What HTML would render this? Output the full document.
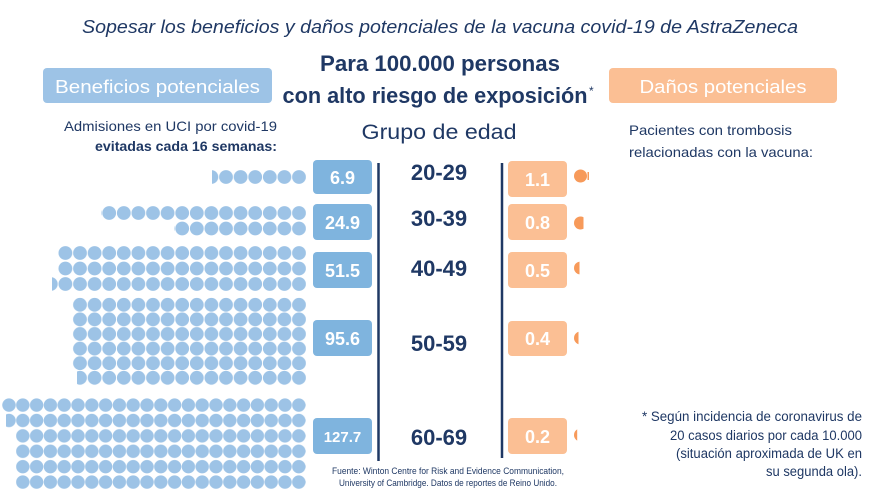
<!DOCTYPE html>
<html><head><meta charset="utf-8"><style>
html,body{margin:0;padding:0;background:#fff;}
svg{display:block;font-family:"Liberation Sans",sans-serif;}
</style></head><body>
<svg width="880" height="495" viewBox="0 0 880 495" xmlns="http://www.w3.org/2000/svg">
<defs>
<pattern id="d1" patternUnits="userSpaceOnUse" x="14.3" y="0" width="14.6" height="15.5"><circle cx="7.3" cy="7.5" r="6.9" fill="#9dc3e6"/></pattern>
<pattern id="d2" patternUnits="userSpaceOnUse" x="14.3" y="0" width="14.6" height="14.6"><circle cx="7.3" cy="7.3" r="6.9" fill="#9dc3e6"/></pattern>
<pattern id="d3" patternUnits="userSpaceOnUse" x="2.1" y="0" width="13.8" height="15.4"><circle cx="6.9" cy="7.6" r="6.7" fill="#9dc3e6"/></pattern>
<clipPath id="c8"><rect x="574" y="210" width="9.5" height="30"/></clipPath>
<clipPath id="c5"><rect x="574" y="255" width="5.5" height="30"/></clipPath>
<clipPath id="c4"><rect x="574" y="325" width="4.5" height="30"/></clipPath>
<clipPath id="c2"><rect x="574" y="422" width="3.2" height="30"/></clipPath>
</defs>
<text x="440" y="33" text-anchor="middle" font-size="18.5" font-style="italic" fill="#1f3864" textLength="716" lengthAdjust="spacingAndGlyphs">Sopesar los beneficios y daños potenciales de la vacuna covid-19 de AstraZeneca</text>

<rect x="43" y="68" width="229" height="35" rx="4" fill="#9dc3e6"/>
<text x="157.5" y="93" text-anchor="middle" font-size="18" fill="#fff" textLength="205" lengthAdjust="spacingAndGlyphs">Beneficios potenciales</text>
<rect x="609" y="68" width="228" height="35" rx="4" fill="#fbbf94"/>
<text x="723" y="93" text-anchor="middle" font-size="18" fill="#fff" textLength="167" lengthAdjust="spacingAndGlyphs">Daños potenciales</text>

<text x="440" y="71" text-anchor="middle" font-size="22" font-weight="bold" fill="#1f3864" textLength="240" lengthAdjust="spacingAndGlyphs">Para 100.000 personas</text>
<text x="435" y="103" text-anchor="middle" font-size="22" font-weight="bold" fill="#1f3864" textLength="305" lengthAdjust="spacingAndGlyphs">con alto riesgo de exposición</text>
<text x="589" y="95" font-size="12" fill="#1f3864">*</text>

<text x="277" y="131" text-anchor="end" font-size="14" fill="#1f3864" textLength="213" lengthAdjust="spacingAndGlyphs">Admisiones en UCI por covid-19</text>
<text x="277" y="151" text-anchor="end" font-size="14" font-weight="bold" fill="#1f3864" textLength="182" lengthAdjust="spacingAndGlyphs">evitadas cada 16 semanas:</text>
<text x="439" y="139" text-anchor="middle" font-size="21" fill="#1f3864" textLength="155" lengthAdjust="spacingAndGlyphs">Grupo de edad</text>
<text x="629" y="135" font-size="14" fill="#1f3864" textLength="163" lengthAdjust="spacingAndGlyphs">Pacientes con trombosis</text>
<text x="629" y="157" font-size="14" fill="#1f3864" textLength="184" lengthAdjust="spacingAndGlyphs">relacionadas con la vacuna:</text>

<!-- dots -->
<g transform="translate(0,169.5)"><rect x="212" y="0" width="94" height="15" fill="url(#d1)"/></g>
<g transform="translate(0,205.5)"><rect x="101" y="0" width="205" height="15.5" fill="url(#d1)"/><rect x="174" y="15.5" width="132" height="15.5" fill="url(#d1)"/></g>
<g transform="translate(0,245.5)"><rect x="58" y="0" width="248" height="46.5" fill="url(#d1)"/><rect x="52" y="31" width="6" height="15.5" fill="url(#d1)"/></g>
<g transform="translate(0,297.5)"><rect x="72.5" y="0" width="233.5" height="73" fill="url(#d2)"/><rect x="77" y="73" width="229" height="14.6" fill="url(#d2)"/></g>
<g transform="translate(0,397.5)"><rect x="2" y="0" width="304" height="15.4" fill="url(#d3)"/><rect x="6" y="15.4" width="300" height="15.4" fill="url(#d3)"/><rect x="16" y="30.8" width="290" height="61.6" fill="url(#d3)"/></g>

<!-- blue boxes -->
<g fill="#7fb4de">
<rect x="313" y="160" width="59" height="34" rx="4"/>
<rect x="313" y="204" width="59" height="36" rx="4"/>
<rect x="313" y="252" width="59" height="36" rx="4"/>
<rect x="313" y="320" width="59" height="36" rx="4"/>
<rect x="313" y="418" width="59" height="36" rx="4"/>
</g>
<g fill="#fff" font-weight="bold" text-anchor="middle" font-size="18">
<text x="342.5" y="184">6.9</text>
<text x="342.5" y="229">24.9</text>
<text x="342.5" y="277">51.5</text>
<text x="342.5" y="345">95.6</text>
<text x="342.5" y="442" font-size="15">127.7</text>
</g>
<line x1="378.5" y1="163" x2="378.5" y2="461" stroke="#1f3864" stroke-width="2.5"/>
<line x1="502" y1="163" x2="502" y2="458" stroke="#1f3864" stroke-width="2.5"/>
<g fill="#1f3864" font-weight="bold" text-anchor="middle" font-size="22">
<text x="439" y="180">20-29</text>
<text x="439" y="226">30-39</text>
<text x="439" y="276">40-49</text>
<text x="439" y="351">50-59</text>
<text x="439" y="445">60-69</text>
</g>
<g fill="#fbbf94">
<rect x="508" y="161" width="59" height="36" rx="4"/>
<rect x="508" y="204" width="59" height="36" rx="4"/>
<rect x="508" y="252" width="59" height="36" rx="4"/>
<rect x="508" y="321" width="59" height="35" rx="4"/>
<rect x="508" y="418" width="59" height="36" rx="4"/>
</g>
<g fill="#fff" font-weight="bold" text-anchor="middle" font-size="18">
<text x="537.5" y="186">1.1</text>
<text x="537.5" y="229">0.8</text>
<text x="537.5" y="277">0.5</text>
<text x="537.5" y="345">0.4</text>
<text x="537.5" y="443">0.2</text>
</g>
<g fill="#f79a5a">
<circle cx="580.5" cy="176" r="6.5"/>
<rect x="587.5" y="172" width="1.5" height="8"/>
<circle cx="580.5" cy="223" r="6.5" clip-path="url(#c8)"/>
<circle cx="580.5" cy="268" r="6.5" clip-path="url(#c5)"/>
<circle cx="580.5" cy="338" r="6.5" clip-path="url(#c4)"/>
<circle cx="580.5" cy="435" r="6.5" clip-path="url(#c2)"/>
</g>

<g fill="#1f3864" font-size="9.5" text-anchor="middle">
<text x="448" y="474" textLength="232" lengthAdjust="spacingAndGlyphs">Fuente: Winton Centre for Risk and Evidence Communication,</text>
<text x="448" y="486" textLength="218" lengthAdjust="spacingAndGlyphs">University of Cambridge. Datos de reportes de Reino Unido.</text>
</g>
<g fill="#1f3864" font-size="13.5" text-anchor="end">
<text x="862" y="421" textLength="220" lengthAdjust="spacingAndGlyphs">* Según incidencia de coronavirus de</text>
<text x="862" y="440" textLength="192" lengthAdjust="spacingAndGlyphs">20 casos diarios por cada 10.000</text>
<text x="862" y="458" textLength="186" lengthAdjust="spacingAndGlyphs">(situación aproximada de UK en</text>
<text x="862" y="476" textLength="96" lengthAdjust="spacingAndGlyphs">su segunda ola).</text>
</g>
</svg>
</body></html>
